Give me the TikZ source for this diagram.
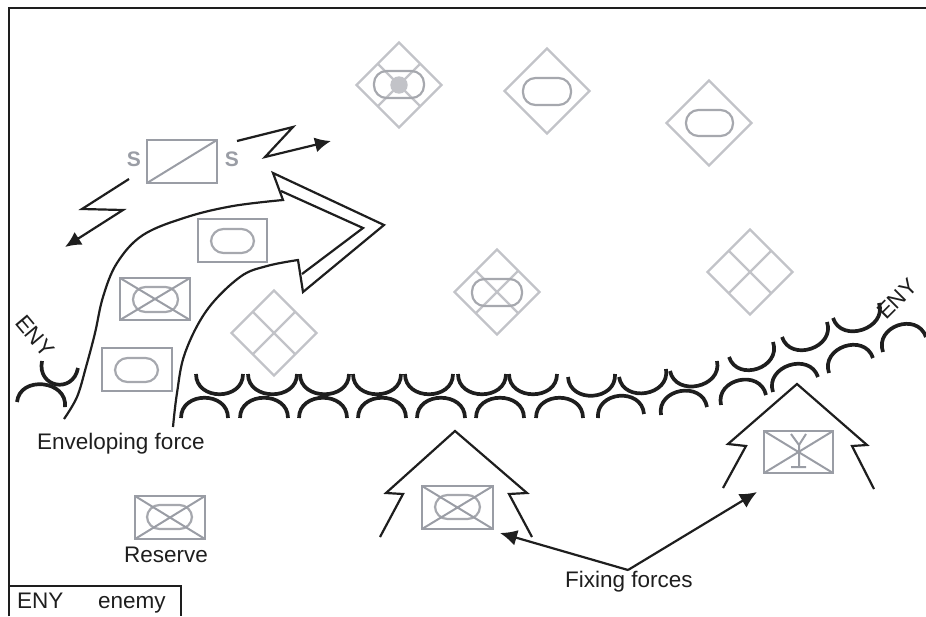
\documentclass[tikz,border=0pt]{standalone}
\usepackage{fontspec}
\setmainfont{Liberation Sans}
\usetikzlibrary{calc,arrows.meta}
\definecolor{unitgray}{HTML}{9A9DA5}
\definecolor{pillgray}{HTML}{A6A8AE}
\definecolor{dmdgray}{HTML}{C2C3C8}
\definecolor{inkblack}{HTML}{1E1E1E}
\tikzset{
  unitbox/.style={draw=unitgray,line width=2.6pt},
  unitline/.style={draw=unitgray,line width=2pt},
  pillline/.style={draw=pillgray,line width=2.2pt},
  dmdline/.style={draw=dmdgray,line width=2.2pt,line join=miter},
  inkline/.style={draw=inkblack,line width=2.2pt,line join=miter},
  fixarrow/.style={draw=inkblack,line width=2.2pt,-{Latex[length=17pt,width=16pt]}},
  arcline/.style={draw=inkblack,line width=3.7pt},
  lbl/.style={inner sep=0pt,font=\fontsize{22.5}{24}\selectfont,text=inkblack},
  slabel/.style={inner sep=0pt,font=\fontsize{21}{22}\selectfont\bfseries,text=unitgray},
}
% x1 y1 x2 y2 : rectangle
\newcommand{\unitrect}[4]{\draw[unitbox] (#1,#2) rectangle (#3,#4);}
\newcommand{\unitx}[4]{\draw[unitline] (#1,#2) -- (#3,#4) (#1,#4) -- (#3,#2);}
\newcommand{\pill}[4]{\draw[pillline,rounded corners=12.5pt] (#1,#2) rectangle (#3,#4);}
% centre x, y
\newcommand{\dmd}[2]{\draw[dmdline] (#1-42.5,#2) -- (#1,#2-42.5) -- (#1+42.5,#2) -- (#1,#2+42.5) -- cycle;}
\newcommand{\dmdx}[2]{\draw[dmdline] (#1-21.2,#2-21.2) -- (#1+21.2,#2+21.2) (#1-21.2,#2+21.2) -- (#1+21.2,#2-21.2);}
% arcs: endpoints x1 y1 x2 y2
\newcommand{\uarc}[4]{\draw[arcline] (#1,#2) .. controls ($(#1,#2)!27pt!-90:(#3,#4)$) and ($(#3,#4)!27pt!90:(#1,#2)$) .. (#3,#4);}
\newcommand{\carc}[4]{\draw[arcline] (#1,#2) .. controls ($(#1,#2)!27pt!90:(#3,#4)$) and ($(#3,#4)!27pt!-90:(#1,#2)$) .. (#3,#4);}
\begin{document}
\begin{tikzpicture}[x=1pt,y=-1pt]
\useasboundingbox (0,0) rectangle (926,616);
% frame
\draw[inkline] (9,616) -- (9,8) -- (926,8);
\draw[inkline] (9,616) -- (9,586) -- (181,586) -- (181,616);
% signal unit
\unitrect{147}{140}{217}{183}
\draw[unitline] (147,183) -- (217,140);
\node[slabel] (sl) at (134,159) {S};
\node[slabel] (sr) at (232,159) {S};
% lightning
\draw[inkline,-{Latex[length=16pt,width=15pt]}] (237,141) -- (293,127) -- (265,157) -- (331,141);
\draw[inkline,-{Latex[length=16pt,width=15pt]}] (129,179) -- (82,209) -- (123,210) -- (65,247);
% enveloping arrow
\draw[inkline,line cap=butt]
  plot[smooth,tension=.6] coordinates {(173,427) (177,393) (185,353) (207,310) (240,277) (267,266) (298,260)}
  -- (303,292) -- (384,225) -- (273,173) -- (283,200)
  -- plot[smooth,tension=.6] coordinates {(283,200) (233,206) (187,217) (143,235) (117,263) (103,297) (95,333) (86,367) (77,397) (64,419)};
\draw[inkline] (281,191) -- (363,228) -- (302,274);
% boxed units
\unitrect{198}{219}{267}{262}
\pill{211}{229}{254}{253}
\unitrect{120}{278}{190}{320}
\pill{133}{287}{178}{312}
\unitx{120}{278}{190}{320}
\unitrect{102}{348}{172}{391}
\pill{115}{358}{158}{382}
\unitrect{135}{496}{205}{539}
\pill{147}{505}{192}{529}
\unitx{135}{496}{205}{539}
\unitrect{422}{486}{493}{529}
\pill{435}{495}{480}{519}
\unitx{422}{486}{493}{529}
\unitrect{764}{431}{833}{473}
\unitx{764}{431}{833}{473}
\draw[unitline] (791,434) -- (799,445) -- (806,434) (799,445) -- (799,467) (791,467) -- (806,467);
% diamonds
\dmd{399}{85}
\dmdx{399}{85}
\pill{374}{71}{424}{98}
\fill[dmdgray] (399,85) circle (8.7pt);
\dmd{547}{91}
\pill{523}{78}{571}{105}
\dmd{709}{123}
\pill{686}{110}{733}{136}
\dmd{497}{292}
\dmdx{497}{292}
\pill{472}{279}{522}{306}
\dmd{274}{333}
\dmdx{274}{333}
\dmd{750}{272}
\dmdx{750}{272}
% arcs, upper row
\uarc{42}{361}{78}{368}
\carc{17}{402}{65}{407}
\foreach \a/\b in {196/243,248/297,300/349,353/401,405/453,458/506,509/557}{\uarc{\a}{374}{\b}{374}}
\uarc{568}{377}{615}{374}
\uarc{619}{377}{666}{369}
\uarc{670}{371}{717}{361}
\uarc{729}{357}{773}{342}
\uarc{782}{337}{827}{322}
\uarc{833}{318}{879}{303}
% arcs, lower row
\foreach \a/\b in {181/228,240/288,299/347,358/406,417/465,476/524,536/583}{\carc{\a}{418}{\b}{418}}
\carc{598}{418}{644}{414}
\carc{661}{415}{707}{407}
\carc{721}{405}{766}{395}
\carc{773}{392}{818}{377}
\carc{829}{373}{873}{358}
\carc{883}{352}{926}{337}
% ENY labels
\node[lbl,rotate=-50] (enyl) at (35,336) {ENY};
\node[lbl,rotate=45] (enyr) at (897,299) {ENY};
% fixing houses
\draw[inkline] (380,537) -- (403,494) -- (386,493) -- (455,431) -- (527,493) -- (509,494) -- (532,537);
\draw[inkline] (723,488) -- (746,446) -- (728,444) -- (797,384) -- (867,445) -- (852,446) -- (874,489);
% text
\node[lbl] (env) at (121,444) {Enveloping force};
\node[lbl] (res) at (166,555) {Reserve};
\node[lbl] (fix) at (629,582) {Fixing forces};
\node[lbl,anchor=base west] (leg1) at (17,608) {ENY};
\node[lbl,anchor=base west] (leg2) at (98,608) {enemy};
% fixing arrows
\coordinate (fixroot) at (628,570);
\coordinate (tipa) at (500,533);
\coordinate (tipb) at (757,492);
\draw[fixarrow] (fixroot) -- (tipa);
\draw[fixarrow] (fixroot) -- (tipb);
\end{tikzpicture}
\end{document}
